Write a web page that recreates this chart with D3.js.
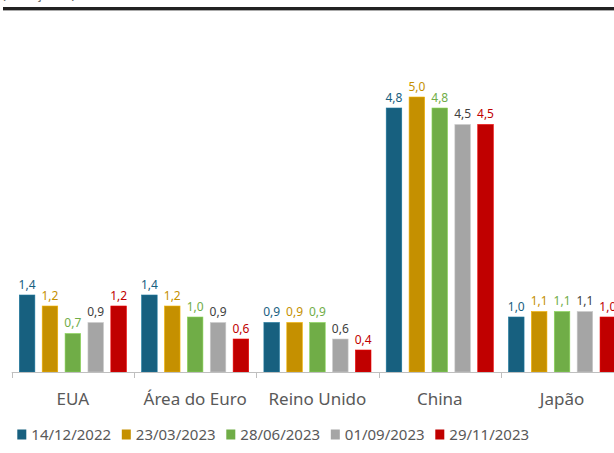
<!DOCTYPE html>
<html><head><meta charset="utf-8">
<script src="https://cdn.jsdelivr.net/npm/d3@7"></script>
<style>body{margin:0;background:#fff}svg{display:block}</style>
</head><body><svg id="c" width="614" height="453"></svg>
<script>
const categories = ["EUA", "Área do Euro", "Reino Unido", "China", "Japão"];
const seriesNames = ["14/12/2022", "23/03/2023", "28/06/2023", "01/09/2023", "29/11/2023"];
const s1 = [1.4, 1.4, 0.9, 4.8, 1.0];
const s2 = [1.2, 1.2, 0.9, 5.0, 1.1];
const s3 = [0.7, 1.0, 0.9, 4.8, 1.1];
const s4 = [0.9, 0.9, 0.6, 4.5, 1.1];
const s5 = [1.2, 0.6, 0.4, 4.5, 1.0];
const series = [s1, s2, s3, s4, s5];
const barColors = ["#17607F", "#C59000", "#70AD47", "#A5A5A5", "#C00000"];
const labelColors = ["#17607F", "#C59000", "#70AD47", "#404040", "#C00000"];

const svg = d3.select("#c");
const font = "'Noto Sans', 'Open Sans', sans-serif";

// header remnants
svg.append("text").attr("x", 2).attr("y", -1).attr("font-family", font).attr("font-size", 13)
  .attr("fill", "#595959").text("(variação %)");
svg.append("rect").attr("x", 3).attr("y", 7).attr("width", 611).attr("height", 3).attr("fill", "#222");
svg.append("rect").attr("x", 3).attr("y", 10).attr("width", 611).attr("height", 1).attr("fill", "#aaa");

const x0 = d3.scaleBand().domain(categories).range([11.7, 11.7 + 5 * 122.3]).padding(0);
const x1 = d3.scaleBand().domain(d3.range(5)).range([7.6, 114.7]).paddingInner(0.32).paddingOuter(0);
const y = d3.scaleLinear().domain([0, 6.5]).range([372, 372 - 55 * 6.5]);

const g = svg.append("g");
categories.forEach((c, ci) => {
  const cg = g.append("g").attr("transform", `translate(${x0(c)},0)`);
  series.forEach((s, si) => {
    const v = s[ci];
    cg.append("rect")
      .attr("x", x1(si)).attr("y", y(v))
      .attr("width", x1.bandwidth()).attr("height", y(0) - y(v))
      .attr("fill", barColors[si])
      .attr("stroke", d3.color(barColors[si]).brighter(0.6)).attr("stroke-width", 0.6);
    cg.append("text")
      .attr("x", x1(si) + x1.bandwidth() / 2).attr("y", y(v) - 6.5)
      .attr("text-anchor", "middle").attr("font-family", font).attr("font-size", 12)
      .attr("fill", labelColors[si]).text(d3.format(".1f")(v).replace(".", ","));
  });
});

// axis
const ax = svg.append("g");
ax.append("line").attr("x1", x0.range()[0]).attr("x2", 614).attr("y1", 372.5).attr("y2", 372.5)
  .attr("stroke", "#bfbfbf").attr("stroke-width", 1);
categories.concat(["_end"]).forEach((c, i) => {
  const xx = Math.round(x0.range()[0] + i * x0.step()) + 0.5;
  ax.append("line").attr("x1", xx).attr("x2", xx).attr("y1", 372).attr("y2", 378)
    .attr("stroke", "#bfbfbf");
});
categories.forEach(c => {
  ax.append("text").attr("x", x0(c) + x0.bandwidth() / 2).attr("y", 405)
    .attr("text-anchor", "middle").attr("font-family", font).attr("font-size", 17)
    .attr("fill", "#595959").text(c);
});

// legend
const lg = svg.append("g");
seriesNames.forEach((n, i) => {
  const lx = 17.3 + i * 104.5;
  lg.append("rect").attr("x", lx).attr("y", 429.5).attr("width", 9).attr("height", 10).attr("fill", barColors[i]);
  lg.append("text").attr("x", lx + 14).attr("y", 440).attr("font-family", font).attr("font-size", 15)
    .attr("fill", "#595959").text(n);
});
</script></body></html>
